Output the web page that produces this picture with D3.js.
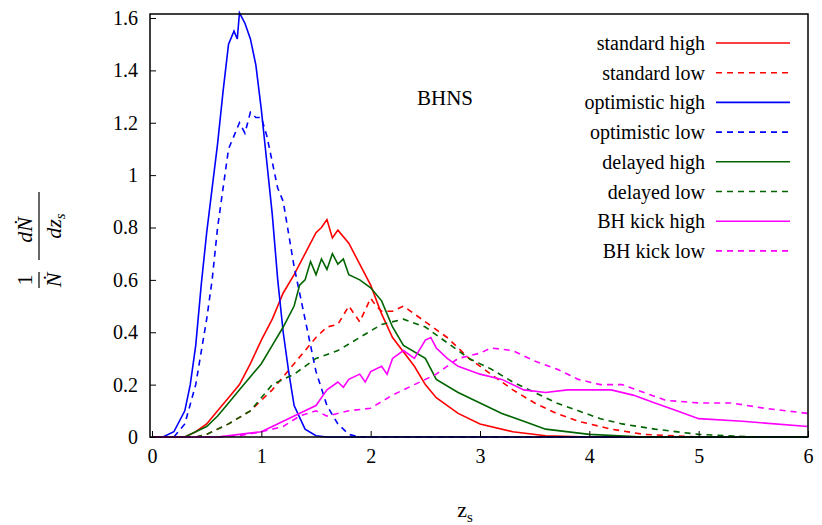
<!DOCTYPE html>
<html><head><meta charset="utf-8">
<script src="https://cdn.jsdelivr.net/npm/d3@7"></script>
<style>body{margin:0;background:#fff}text{font-family:"Liberation Serif","DejaVu Serif",serif}</style>
</head><body><svg id="chart" width="822" height="525"></svg>
<script>
const names = ["standard high","standard low","optimistic high","optimistic low","delayed high","delayed low","BH kick high","BH kick low"];
const colors = ["#ff0000","#ff0000","#0000ff","#0000ff","#006400","#006400","#ff00ff","#ff00ff"];
const dashed = [false,true,false,true,false,true,false,true];
const xTicks = [0,1,2,3,4,5,6];
const yTicks = [0,0.2,0.4,0.6,0.8,1,1.2,1.4,1.6];

const standardHigh = [[0,0],[0.3,0],[0.4,0.02],[0.5,0.05],[0.6,0.1],[0.7,0.15],[0.8,0.2],[0.9,0.28],[1.0,0.37],[1.1,0.45],[1.2,0.55],[1.3,0.62],[1.4,0.7],[1.5,0.78],[1.55,0.8],[1.6,0.83],[1.65,0.76],[1.7,0.79],[1.8,0.74],[1.9,0.66],[2.0,0.58],[2.1,0.47],[2.2,0.38],[2.4,0.27],[2.5,0.2],[2.6,0.15],[2.8,0.09],[3.0,0.05],[3.3,0.02],[3.6,0.005],[4,0],[6,0]];
const standardLow = [[0,0],[0.4,0],[0.5,0.01],[0.7,0.05],[0.9,0.1],[1.1,0.18],[1.3,0.28],[1.5,0.38],[1.6,0.42],[1.7,0.43],[1.8,0.5],[1.9,0.44],[2.0,0.53],[2.05,0.5],[2.1,0.48],[2.2,0.48],[2.3,0.5],[2.5,0.44],[2.7,0.38],[2.9,0.3],[3.1,0.24],[3.3,0.18],[3.5,0.13],[3.7,0.09],[3.9,0.06],[4.2,0.03],[4.5,0.01],[5,0],[6,0]];
const optimisticHigh = [[0,0],[0.1,0],[0.2,0.02],[0.3,0.1],[0.35,0.2],[0.4,0.35],[0.45,0.58],[0.5,0.78],[0.55,0.95],[0.6,1.12],[0.65,1.32],[0.7,1.5],[0.75,1.55],[0.78,1.52],[0.8,1.62],[0.85,1.58],[0.9,1.52],[0.95,1.42],[1.0,1.25],[1.05,1.05],[1.1,0.85],[1.15,0.6],[1.2,0.4],[1.25,0.25],[1.3,0.12],[1.4,0.03],[1.5,0.005],[1.6,0],[6,0]];
const optimisticLow = [[0,0],[0.2,0],[0.3,0.05],[0.4,0.2],[0.5,0.45],[0.55,0.6],[0.6,0.8],[0.65,0.95],[0.7,1.1],[0.75,1.15],[0.8,1.2],[0.85,1.16],[0.9,1.24],[0.95,1.22],[1.0,1.22],[1.05,1.15],[1.1,1.05],[1.15,0.95],[1.2,0.9],[1.3,0.65],[1.4,0.45],[1.5,0.25],[1.6,0.12],[1.7,0.05],[1.8,0.01],[1.9,0],[6,0]];
const delayedHigh = [[0,0],[0.3,0],[0.5,0.04],[0.6,0.08],[0.7,0.13],[0.8,0.18],[0.9,0.23],[1.0,0.28],[1.1,0.35],[1.2,0.42],[1.3,0.5],[1.35,0.58],[1.4,0.6],[1.45,0.67],[1.5,0.62],[1.55,0.68],[1.6,0.64],[1.65,0.7],[1.7,0.66],[1.75,0.68],[1.8,0.62],[1.9,0.6],[2.0,0.57],[2.1,0.52],[2.2,0.42],[2.3,0.35],[2.5,0.3],[2.6,0.22],[2.8,0.17],[3.0,0.13],[3.2,0.09],[3.4,0.06],[3.6,0.03],[4.0,0.01],[4.5,0],[6,0]];
const delayedLow = [[0,0],[0.4,0],[0.5,0.01],[0.7,0.05],[0.9,0.1],[1.0,0.15],[1.1,0.2],[1.3,0.24],[1.5,0.3],[1.7,0.33],[1.9,0.38],[2.1,0.43],[2.3,0.45],[2.5,0.42],[2.7,0.36],[2.9,0.3],[3.1,0.26],[3.3,0.21],[3.5,0.17],[3.7,0.13],[3.9,0.1],[4.1,0.07],[4.3,0.05],[4.6,0.03],[5,0.01],[5.5,0],[6,0]];
const kickHigh = [[0,0],[0.6,0],[0.8,0.01],[1.0,0.02],[1.1,0.04],[1.2,0.06],[1.3,0.08],[1.4,0.1],[1.5,0.12],[1.6,0.18],[1.7,0.21],[1.75,0.19],[1.8,0.22],[1.9,0.24],[1.95,0.21],[2.0,0.25],[2.1,0.27],[2.15,0.24],[2.2,0.3],[2.3,0.33],[2.4,0.3],[2.5,0.37],[2.55,0.38],[2.6,0.34],[2.7,0.3],[2.8,0.27],[3.0,0.24],[3.2,0.22],[3.4,0.18],[3.6,0.17],[3.8,0.18],[4.0,0.18],[4.2,0.18],[4.4,0.16],[4.6,0.13],[4.8,0.1],[5.0,0.07],[5.4,0.06],[6.0,0.04]];
const kickLow = [[0,0],[0.6,0],[0.8,0.005],[1.0,0.02],[1.2,0.04],[1.35,0.08],[1.5,0.1],[1.6,0.08],[1.8,0.1],[2.0,0.11],[2.2,0.16],[2.4,0.2],[2.6,0.24],[2.8,0.3],[3.0,0.32],[3.1,0.34],[3.3,0.33],[3.5,0.29],[3.7,0.26],[3.9,0.22],[4.1,0.2],[4.3,0.2],[4.5,0.17],[4.7,0.14],[5.0,0.13],[5.3,0.13],[5.6,0.11],[6.0,0.09]];
const series = [standardHigh,standardLow,optimisticHigh,optimisticLow,delayedHigh,delayedLow,kickHigh,kickLow];

const svg = d3.select("#chart");
const x = d3.scaleLinear().domain([0,6]).range([152,808]);
const y = d3.scaleLinear().domain([0,1.6]).range([437,18]);
const plotTop = 14;

// curves
const line = d3.line().x(d => x(d[0])).y(d => y(d[1]));
series.forEach((s, i) => {
    svg.append("path").datum(s)
        .attr("d", line)
        .attr("fill", "none")
        .attr("stroke", colors[i])
        .attr("stroke-width", 1.6)
        .attr("stroke-dasharray", dashed[i] ? "6 5" : null);
});

// frame
svg.append("rect").attr("x", 150).attr("y", plotTop).attr("width", 808 - 150).attr("height", 437 - plotTop)
    .attr("fill", "none").attr("stroke", "black").attr("stroke-width", 1.5);

// ticks inward
const xAxis = d3.axisBottom(x).tickValues(xTicks).tickSize(-6).tickPadding(12).tickFormat(d3.format("d"));
svg.append("g").attr("transform", "translate(0,437)").call(xAxis);
const yAxis = d3.axisLeft(y).tickValues(yTicks).tickSize(-6).tickPadding(12).tickFormat(d => d === 0 || d === 1 ? d : d.toFixed(1));
svg.append("g").attr("transform", "translate(150,0)").call(yAxis);
svg.selectAll(".domain").remove();
svg.selectAll(".tick text").attr("font-size", 20).attr("fill", "black")
    .style("font-family", "'Liberation Serif',serif");

// axis labels
svg.append("text").attr("x", 465).attr("y", 517).attr("font-size", 22).attr("text-anchor", "middle")
    .html('z<tspan font-size="15" dy="5">s</tspan>');
const yl = svg.append("g").attr("transform", "translate(46,232) rotate(-90)");
yl.append("text").attr("x", -48).attr("y", -14).attr("font-size", 22).attr("text-anchor", "middle").text("1");
yl.append("line").attr("x1", -56).attr("x2", -40).attr("y1", -7).attr("y2", -7).attr("stroke", "black").attr("stroke-width", 1.2);
yl.append("text").attr("x", -48).attr("y", 15).attr("font-size", 22).attr("font-style", "italic").attr("text-anchor", "middle").text("Ṅ");
yl.append("text").attr("x", 2).attr("y", -14).attr("font-size", 22).attr("font-style", "italic").attr("text-anchor", "middle").text("dṄ");
yl.append("line").attr("x1", -28).attr("x2", 40).attr("y1", -7).attr("y2", -7).attr("stroke", "black").attr("stroke-width", 1.2);
yl.append("text").attr("x", 6).attr("y", 15).attr("font-size", 22).attr("font-style", "italic").attr("text-anchor", "middle")
    .html('dz<tspan font-size="15" dy="4">s</tspan>');

// BHNS
svg.append("text").attr("x", 417).attr("y", 105).attr("font-size", 21).text("BHNS");

// legend
names.forEach((n, i) => {
    const ly = 43 + i * 29.7;
    svg.append("text").attr("x", 705).attr("y", ly + 7).attr("font-size", 20).attr("text-anchor", "end").text(n);
    svg.append("line").attr("x1", 716).attr("x2", 790).attr("y1", ly).attr("y2", ly)
        .attr("stroke", colors[i]).attr("stroke-width", 1.6)
        .attr("stroke-dasharray", dashed[i] ? "6 5" : null);
});
</script></body></html>
